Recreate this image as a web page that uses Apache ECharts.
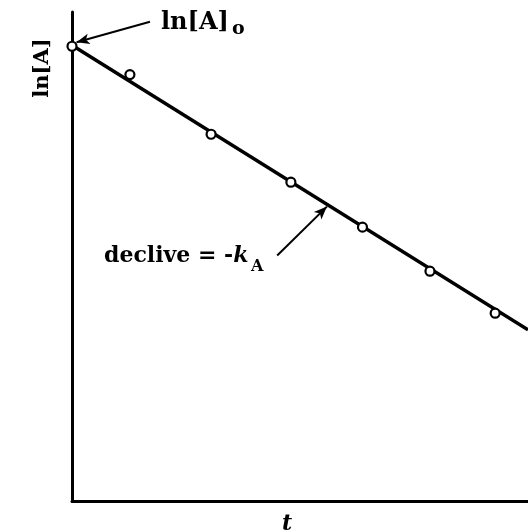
<!DOCTYPE html>
<html>
<head>
<meta charset="utf-8">
<script src="https://cdn.jsdelivr.net/npm/echarts@6/dist/echarts.min.js"></script>
<style>
  html, body { margin: 0; padding: 0; background: #fff; }
  #chart { width: 528px; height: 532px; }
</style>
</head>
<body>
<div id="chart"></div>
<script>
// First-order kinetics: ln[A] against time, with the fitted straight line.
const timeValues = [0, 1.27, 3.05, 4.80, 6.37, 7.85, 9.28];
const lnAValues  = [4.65, 4.36, 3.75, 3.26, 2.80, 2.35, 1.92];

// End points of the fitted line (intercept ln[A]o, slope -kA)
const fitTimes = [0, 10];
const fitLnA   = [4.66, 1.75];

// Arrow annotations, in data units: [from, to]
const arrowIntercept = [[1.71, 4.90], [0.10, 4.69]];
const arrowSlope     = [[4.50, 2.51], [5.59, 3.01]];

const serif = '"DejaVu Serif", "Liberation Serif", serif';

const chart = echarts.init(document.getElementById('chart'), null, { renderer: 'canvas' });

function arrow(pair) {
  return [
    { coord: pair[0], symbol: 'none' },
    { coord: pair[1], symbol: 'arrow', symbolSize: [8, 13] }
  ];
}

chart.setOption({
  animation: false,
  backgroundColor: '#ffffff',
  grid: { left: 72, right: 0, top: 12, bottom: 31, containLabel: false },
  xAxis: {
    type: 'value', min: 0, max: 10,
    axisLine: { show: true, onZero: false, lineStyle: { color: '#000', width: 3 } },
    axisTick: { show: false }, axisLabel: { show: false }, splitLine: { show: false }
  },
  yAxis: {
    type: 'value', min: 0, max: 5,
    axisLine: { show: true, onZero: false, lineStyle: { color: '#000', width: 3 } },
    axisTick: { show: false }, axisLabel: { show: false }, splitLine: { show: false }
  },
  series: [
    {
      name: 'fit',
      type: 'line',
      data: fitTimes.map((t, i) => [t, fitLnA[i]]),
      symbol: 'none',
      lineStyle: { color: '#000', width: 3.5 },
      z: 2,
      markLine: {
        silent: true,
        symbol: ['none', 'arrow'],
        label: { show: false },
        lineStyle: { color: '#000', width: 2, type: 'solid', opacity: 1 },
        data: [arrow(arrowIntercept), arrow(arrowSlope)]
      }
    },
    {
      name: 'ln[A]',
      type: 'scatter',
      data: timeValues.map((t, i) => [t, lnAValues[i]]),
      symbol: 'circle',
      symbolSize: 9,
      itemStyle: { color: '#fff', borderColor: '#000', borderWidth: 2.2, opacity: 1 },
      z: 5
    }
  ],
  graphic: [
    {
      type: 'text', x: 43, y: 68, rotation: Math.PI / 2,
      style: { text: 'ln[A]', font: 'bold 21px ' + serif, fill: '#000',
               textAlign: 'center', textVerticalAlign: 'middle' }
    },
    {
      type: 'text', x: 161, y: 23,
      style: { text: 'ln[A]', font: 'bold 24px ' + serif, fill: '#000',
               textAlign: 'left', textVerticalAlign: 'middle' }
    },
    {
      type: 'text', x: 232, y: 29,
      style: { text: 'o', font: 'bold 19px ' + serif, fill: '#000',
               textAlign: 'left', textVerticalAlign: 'middle' }
    },
    {
      type: 'text', x: 104, y: 256,
      style: {
        text: '{a|declive = -}{k|k}',
        fill: '#000', textAlign: 'left', textVerticalAlign: 'middle',
        rich: {
          a: { font: 'bold 22px ' + serif, fill: '#000' },
          k: { font: 'italic bold 22px ' + serif, fill: '#000' }
        }
      }
    },
    {
      type: 'text', x: 251, y: 267,
      style: { text: 'A', font: 'bold 16px ' + serif, fill: '#000',
               textAlign: 'left', textVerticalAlign: 'middle' }
    },
    {
      type: 'text', x: 287, y: 524,
      style: { text: 't', font: 'italic bold 22px ' + serif, fill: '#000',
               textAlign: 'center', textVerticalAlign: 'middle' }
    }
  ]
});
</script>
</body>
</html>
